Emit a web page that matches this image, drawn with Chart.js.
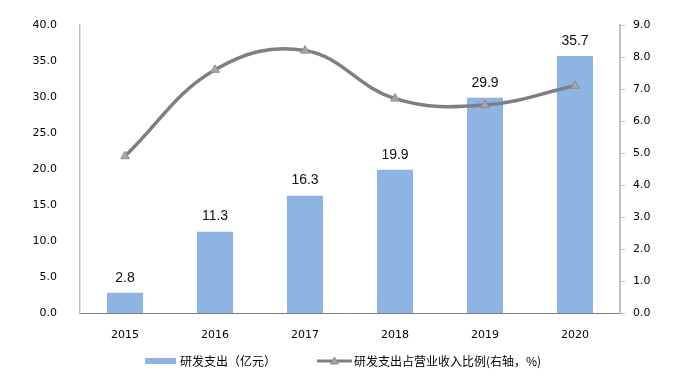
<!DOCTYPE html>
<html lang="zh">
  <head>
    <meta charset="UTF-8" />
    <title>研发支出</title>
    <style>
      html, body {
        margin: 0;
        padding: 0;
        background: #fff;
      }
      #wrap {
        width: 683px;
        height: 375px;
      }
    </style>
  </head>
  <body>
    <div id="wrap"><canvas id="chart"></canvas></div>

    <script src="https://cdn.jsdelivr.net/npm/chart.js@4/dist/chart.umd.min.js"></script>
    <script>
      const years = ["2015", "2016", "2017", "2018", "2019", "2020"];
      const rdSpend = [2.8, 11.3, 16.3, 19.9, 29.9, 35.7];
      const rdRatio = [4.9, 7.6, 8.2, 6.7, 6.5, 7.1];
      const barLabel = "研发支出（亿元）";
      const lineLabel = "研发支出占营业收入比例(右轴，%)";

      const barColor = "#8db4e3";
      const lineColor = "#7f7f7f";
      const tickFont = { family: "DejaVu Sans", size: 11 };

      // value labels over the bars (bar dataset is index 1)
      const barValues = {
        id: "barValues",
        afterDatasetsDraw(chart) {
          const ctx = chart.ctx;
          const meta = chart.getDatasetMeta(1);
          ctx.save();
          ctx.font = "14px 'Liberation Sans'";
          ctx.fillStyle = "#111";
          ctx.textAlign = "center";
          ctx.textBaseline = "bottom";
          meta.data.forEach((bar, i) => {
            ctx.fillText(rdSpend[i].toFixed(1), bar.x, bar.y - 8);
          });
          ctx.restore();
        },
      };

      // legend drawn by hand so the line entry gets its triangle
      const legendBox = {
        id: "legendBox",
        afterDraw(chart) {
          const ctx = chart.ctx;
          const y = 361;
          ctx.save();
          ctx.fillStyle = barColor;
          ctx.fillRect(145, y - 3, 31, 6);
          ctx.font = "12px 'Noto Sans CJK SC'";
          ctx.fillStyle = "#000";
          ctx.textBaseline = "middle";
          ctx.fillText(barLabel, 180, y);

          ctx.strokeStyle = lineColor;
          ctx.lineWidth = 3;
          ctx.beginPath();
          ctx.moveTo(317, y);
          ctx.lineTo(352, y);
          ctx.stroke();
          ctx.fillStyle = "#a6a6a6";
          ctx.strokeStyle = "#8c8c8c";
          ctx.lineWidth = 1;
          ctx.beginPath();
          ctx.moveTo(334.5, y - 4);
          ctx.lineTo(338.5, y + 3);
          ctx.lineTo(330.5, y + 3);
          ctx.closePath();
          ctx.fill();
          ctx.stroke();
          ctx.fillStyle = "#000";
          ctx.fillText(lineLabel, 354, y);
          ctx.restore();
        },
      };

      new Chart("chart", {
        data: {
          labels: years,
          datasets: [
            {
              type: "line",
              label: lineLabel,
              data: rdRatio,
              yAxisID: "y1",
              borderColor: lineColor,
              borderWidth: 3.5,
              tension: 0.4,
              pointStyle: "triangle",
              pointRadius: 5,
              pointBackgroundColor: "#a6a6a6",
              pointBorderColor: "#8c8c8c",
              pointBorderWidth: 1,
              order: 0,
            },
            {
              type: "bar",
              label: barLabel,
              data: rdSpend,
              yAxisID: "y",
              backgroundColor: barColor,
              barPercentage: 0.4,
              categoryPercentage: 1,
              order: 1,
            },
          ],
        },
        options: {
          responsive: true,
          maintainAspectRatio: false,
          animation: false,
          layout: { padding: { top: 25, bottom: 37, left: 0, right: 0 } },
          plugins: {
            legend: { display: false },
            tooltip: { enabled: false },
          },
          scales: {
            x: {
              grid: { display: false },
              border: { color: "#808080", width: 1 },
              ticks: { font: tickFont, color: "#000", padding: 8 },
              afterFit(scale) {
                scale.height = 25;
              },
            },
            y: {
              position: "left",
              min: 0,
              max: 40,
              grid: { display: false },
              border: { color: "#bfbfbf", width: 1.5 },
              ticks: {
                stepSize: 5,
                font: tickFont,
                color: "#000",
                padding: 15,
                callback: (v) => v.toFixed(1),
              },
              afterFit(scale) {
                scale.width = 80;
              },
            },
            y1: {
              position: "right",
              min: 0,
              max: 9,
              grid: {
                drawOnChartArea: false,
                drawTicks: true,
                tickLength: 5,
                color: "#bfbfbf",
              },
              border: { color: "#bfbfbf", width: 2 },
              ticks: {
                stepSize: 1,
                font: tickFont,
                color: "#000",
                padding: 8,
                callback: (v) => v.toFixed(1),
              },
              afterFit(scale) {
                scale.width = 63;
              },
            },
          },
        },
        plugins: [barValues, legendBox],
      });
    </script>
  </body>
</html>
